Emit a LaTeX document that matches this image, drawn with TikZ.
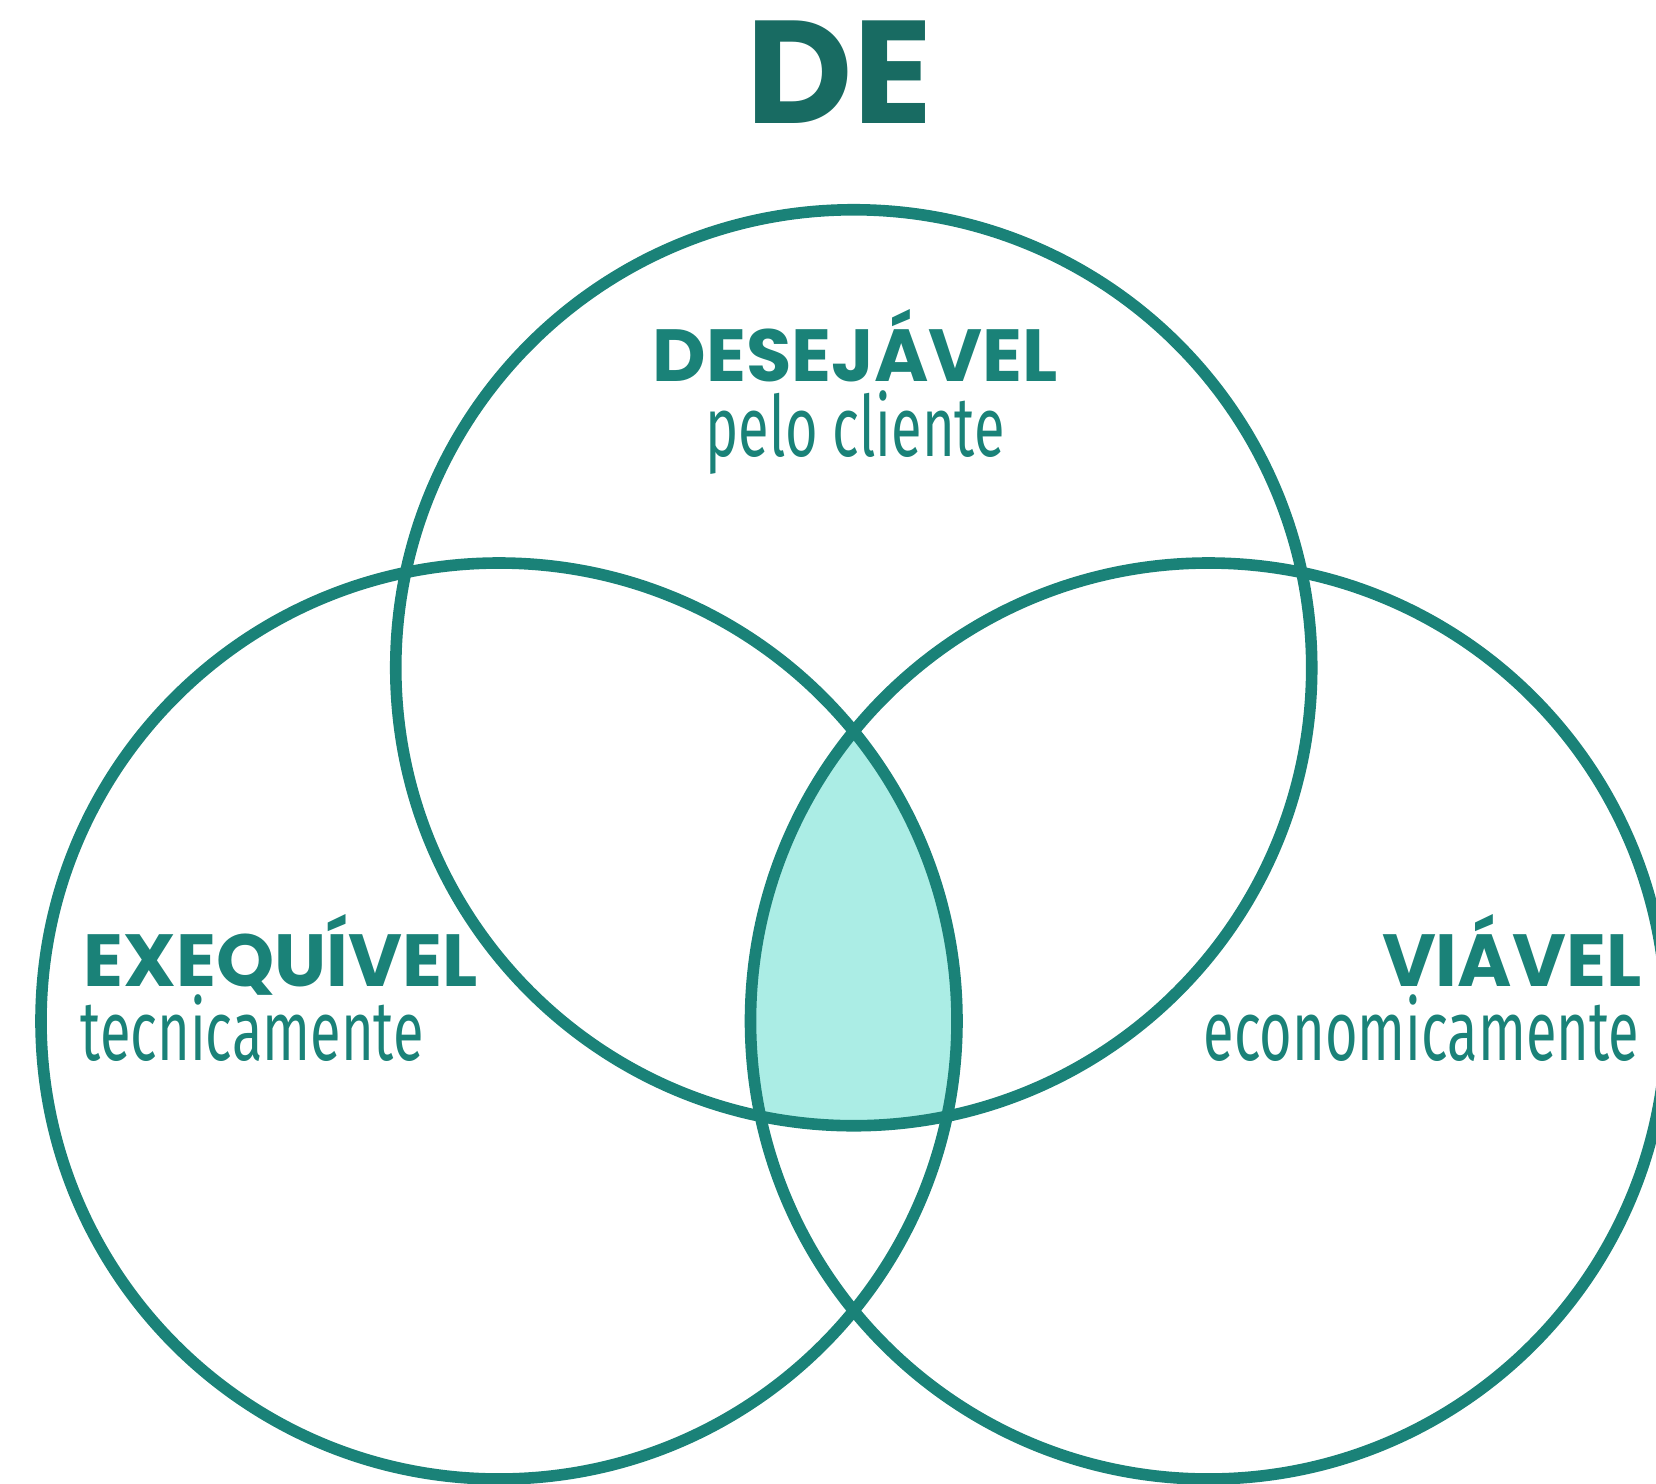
\documentclass[tikz,border=0pt]{standalone}
\usepackage{fontspec}
\newfontfamily\popfont{Poppins}
\newfontfamily\thinfont[FakeStretch=0.663]{Fira Sans}
\definecolor{vennline}{HTML}{1A8278}
\definecolor{vennfill}{HTML}{ABEDE5}
\definecolor{titlecol}{HTML}{186B62}

\begin{document}
\begin{tikzpicture}[x=0.01cm,y=-0.01cm,
  circ/.style={draw=vennline,line width=3.3pt},
  head/.style={inner sep=0pt,text depth=0pt,text=vennline,font=\popfont\bfseries\fontsize{21}{24}\selectfont},
  sub/.style={inner sep=0pt,text=vennline,font=\thinfont\fontsize{24}{26}\selectfont}]
	\useasboundingbox (0,0) rectangle (1656,1484);
	\clip (0,0) rectangle (1656,1484);
	\coordinate (des) at (853.75,667.75);
	\coordinate (exe) at (499,1021);
	\coordinate (via) at (1208.5,1021);
	\begin{scope}
		\clip (des) circle (458);
		\clip (exe) circle (458);
		\fill[vennfill] (via) circle (458);
	\end{scope}
	\draw[circ] (des) circle (458);
	\draw[circ] (exe) circle (458);
	\draw[circ] (via) circle (458);
	\node[inner sep=0pt,anchor=base,text=titlecol,font=\popfont\bfseries\fontsize{41.6}{44}\selectfont] (title) at (839.5,123) {DE};
	\node[head,anchor=base] (deshead) at (855,381) {DESEJÁVEL};
	\node[sub,anchor=base] (dessub) at (855,456) {pelo cliente};
	\node[head,anchor=base west] (exehead) at (83,986) {EXEQUÍVEL};
	\node[sub,anchor=base west] (exesub) at (80,1060) {tecnicamente};
	\node[head,anchor=base east] (viahead) at (1642,986) {VIÁVEL};
	\node[sub,anchor=base east] (viasub) at (1640,1060) {economicamente};
\end{tikzpicture}
\end{document}
